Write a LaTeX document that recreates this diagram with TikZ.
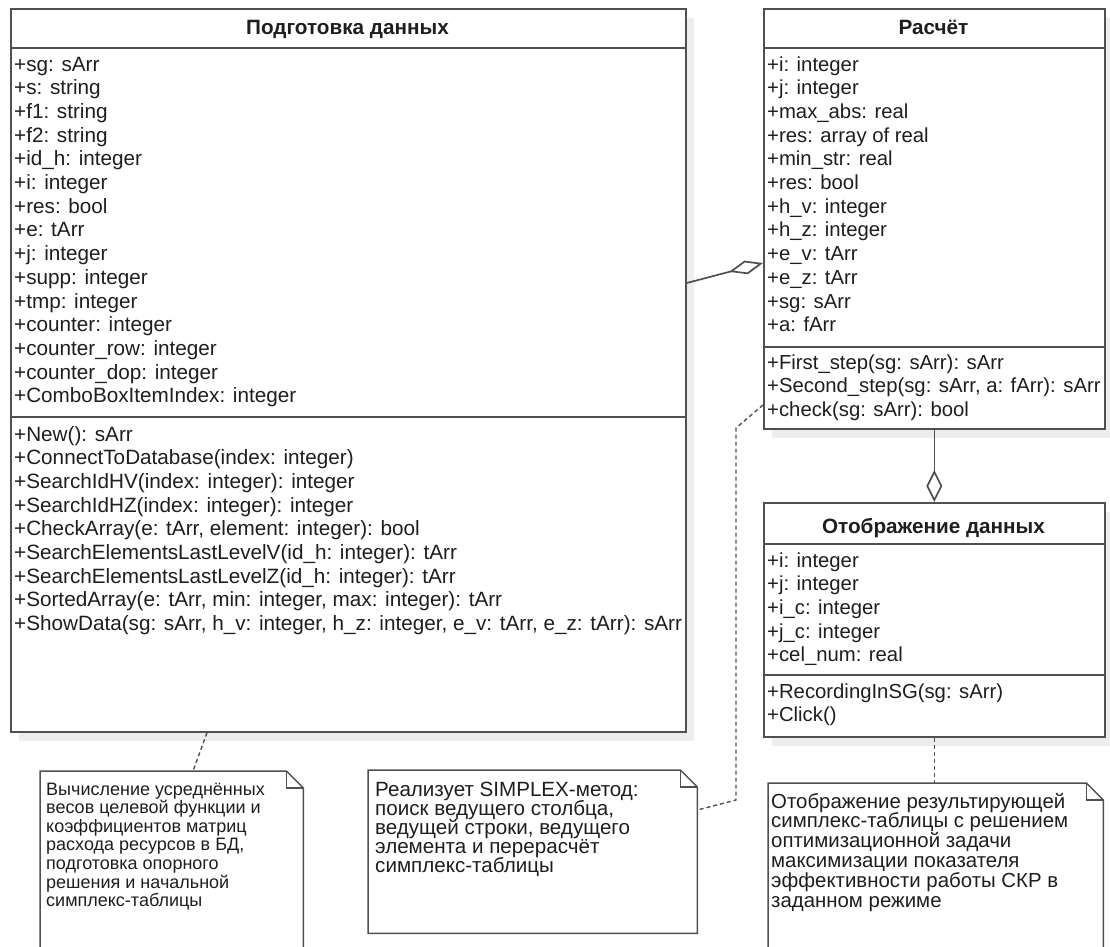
\documentclass[tikz,border=0pt]{standalone}
\usepackage{fontspec}
\setmainfont{Liberation Sans}
\usetikzlibrary{arrows.meta,calc,shadows}

\definecolor{linec}{HTML}{505050}
\definecolor{textc}{HTML}{1E1E1E}
\definecolor{shadowc}{HTML}{EDEDED}

% draws a UML note outline with a folded corner around node #1
\newcommand\drawnote[1]{%
  \draw[noteline] (#1.south west) -- (#1.north west) -- ([xshift=-17pt]#1.north east)
    -- ([yshift=-17pt]#1.north east) -- (#1.south east) -- cycle;
  \draw[noteline] ([xshift=-17pt]#1.north east) -- ([xshift=-17pt,yshift=-17pt]#1.north east)
    -- ([yshift=-17pt]#1.north east);}

\begin{document}
\begin{tikzpicture}[x=1pt,y=-1pt,
  classbox/.style={draw=linec, line width=1.7pt, fill=white, rectangle, inner sep=0pt,
    anchor=north west, drop shadow={shadow xshift=8pt, shadow yshift=-9pt, fill=shadowc, opacity=1}},
  notebox/.style={rectangle, inner sep=0pt, anchor=north west},
  noteline/.style={draw=linec, line width=1.5pt, line join=miter},
  divider/.style={draw=linec, line width=1.7pt},
  head/.style={anchor=base, inner sep=0pt, text=textc, font=\fontsize{20.7}{23.7}\selectfont\bfseries},
  member/.style={anchor=base west, inner sep=0pt, text=textc, font=\fontsize{20.7}{23.7}\selectfont},
  rmember/.style={member, font=\fontsize{20.3}{23.7}\selectfont},
  notetext/.style={anchor=base west, inner sep=0pt, text=textc},
  aggr/.style={draw=linec, line width=1.7pt},
  noteconn/.style={draw=linec, line width=1.4pt, dash pattern=on 4pt off 3pt},
]
\useasboundingbox (0,0) rectangle (1110,946);
\clip (0,0) rectangle (1110,946);

% ---------- classes ----------
\node[classbox, minimum width=675pt, minimum height=723pt] (prep) at (10,8) {};
\node[classbox, minimum width=341pt, minimum height=420pt] (calc) at (763,8) {};
\node[classbox, minimum width=341pt, minimum height=234pt] (disp) at (763,502) {};

% compartment dividers
\draw[divider] ($(prep.north west)+(0,40)$) -- ($(prep.north east)+(0,40)$);
\draw[divider] ($(prep.north west)+(0,409)$) -- ($(prep.north east)+(0,409)$);
\draw[divider] ($(calc.north west)+(0,40)$) -- ($(calc.north east)+(0,40)$);
\draw[divider] ($(calc.north west)+(0,339)$) -- ($(calc.north east)+(0,339)$);
\draw[divider] ($(disp.north west)+(0,42)$) -- ($(disp.north east)+(0,42)$);
\draw[divider] ($(disp.north west)+(0,173)$) -- ($(disp.north east)+(0,173)$);

% class names
\node[head] (prephead) at (347.5,34) {Подготовка данных};
\node[head] (calchead) at (933.5,34) {Расчёт};
\node[head] (disphead) at (933.5,533) {Отображение данных};

% Подготовка данных: attributes and operations
\foreach \t [count=\k] in {+sg: sArr, +s: string, +f1: string, +f2: string, +id\_h: integer,
    +i: integer, +res: bool, +e: tArr, +j: integer, +supp: integer, +tmp: integer,
    +counter: integer, +counter\_row: integer, +counter\_dop: integer, +ComboBoxItemIndex: integer}
  \node[member] (pa\k) at (14,{71+(\k-1)*23.7}) {\t};
\foreach \t [count=\k] in {+New(): sArr, +ConnectToDatabase(index: integer),
    +SearchIdHV(index: integer): integer, +SearchIdHZ(index: integer): integer,
    {+CheckArray(e: tArr, element: integer): bool},
    +SearchElementsLastLevelV(id\_h: integer): tArr, +SearchElementsLastLevelZ(id\_h: integer): tArr,
    {+SortedArray(e: tArr, min: integer, max: integer): tArr},
    {+ShowData(sg: sArr, h\_v: integer, h\_z: integer, e\_v: tArr, e\_z: tArr): sArr}}
  \node[member] (pm\k) at (14,{441+(\k-1)*23.7}) {\t};

% Расчёт: attributes and operations
\foreach \t [count=\k] in {+i: integer, +j: integer, +max\_abs: real, +res: array of real,
    +min\_str: real, +res: bool, +h\_v: integer, +h\_z: integer, +e\_v: tArr, +e\_z: tArr,
    +sg: sArr, +a: fArr}
  \node[rmember] (ca\k) at (767,{71+(\k-1)*23.7}) {\t};
\foreach \t [count=\k] in {+First\_step(sg: sArr): sArr, {+Second\_step(sg: sArr, a: fArr): sArr},
    +check(sg: sArr): bool}
  \node[rmember] (cm\k) at (767,{369+(\k-1)*23.7}) {\t};

% Отображение данных: attributes and operations
\foreach \t [count=\k] in {+i: integer, +j: integer, +i\_c: integer, +j\_c: integer, +cel\_num: real}
  \node[rmember] (da\k) at (767,{567+(\k-1)*23.7}) {\t};
\foreach \t [count=\k] in {+RecordingInSG(sg: sArr), +Click()}
  \node[rmember] (dm\k) at (767,{698+(\k-1)*23.7}) {\t};

% ---------- aggregations ----------
\draw[aggr, -{Diamond[fill=white, length=35pt, width=14pt]}]
  ($(prep.north east)+(0,275)$) -- ($(calc.north west)+(0,255)$);
\draw[aggr, -{Diamond[fill=white, length=32pt, width=16pt]}]
  (calc.south) -- (disp.north);

% ---------- notes ----------
\node[notebox, minimum width=263pt, minimum height=200pt] (n1) at (40,771) {};
\node[notebox, minimum width=329pt, minimum height=163pt] (n2) at (368,770) {};
\node[notebox, minimum width=335pt, minimum height=190pt] (n3) at (768,783) {};
\drawnote{n1}
\drawnote{n2}
\drawnote{n3}

\foreach \t [count=\k] in {Вычисление усреднённых, весов целевой функции и, коэффициентов матриц,
    {расхода ресурсов в БД,}, подготовка опорного, решения и начальной, симплекс-таблицы}
  \node[notetext, font=\fontsize{18}{18.6}\selectfont] (t1\k) at (46,{795+(\k-1)*18.6}) {\t};
\foreach \t [count=\k] in {Реализует SIMPLEX-метод:, {поиск ведущего столбца,},
    {ведущей строки, ведущего}, элемента и перерасчёт, симплекс-таблицы}
  \node[notetext, font=\fontsize{20.6}{19}\selectfont] (t2\k) at (375,{796+(\k-1)*19}) {\t};
\foreach \t [count=\k] in {Отображение результирующей, симплекс-таблицы с решением,
    оптимизационной задачи, максимизации показателя, эффективности работы СКР в, заданном режиме}
  \node[notetext, font=\fontsize{20.4}{19.8}\selectfont] (t3\k) at (771,{808+(\k-1)*19.8}) {\t};

% ---------- note anchors ----------
\coordinate (b1) at (736,428);
\coordinate (b2) at (736,800);
\draw[noteconn] ($(prep.south west)+(197,0)$) -- ($(n1.north west)+(153,0)$);
\draw[noteconn] ($(calc.north west)+(0,397)$) -- (b1) -- (b2) -- ($(n2.north east)+(0,40)$);
\draw[noteconn] (disp.south) -- (disp.south |- n3.north);
\end{tikzpicture}
\end{document}
